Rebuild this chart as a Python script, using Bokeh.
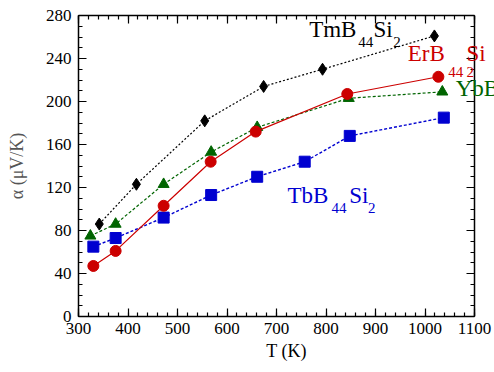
from bokeh.plotting import figure
from bokeh.models import Label, LinearAxis, Range1d, FixedTicker
from bokeh.embed import file_html
from bokeh.resources import INLINE

# Data (temperature in K, Seebeck coefficient in uV/K)
tm_T = [342, 417, 555, 674, 793, 1019]
tm_a = [86, 123, 182, 214, 230, 261]

er_T = [330, 375, 472, 567, 658, 843, 1027]
er_a = [47, 61, 103, 144, 172, 207, 223]

yb_T = [324, 375, 472, 568, 661, 846, 1035]
yb_a = [75, 86, 123, 153, 176, 203, 209]

tb_T = [330, 375, 472, 568, 661, 757, 848, 1038]
tb_a = [65, 73, 92, 113, 130, 144, 168, 185]

x_ticks = [300, 400, 500, 600, 700, 800, 900, 1000, 1100]
y_ticks = [0, 40, 80, 120, 160, 200, 240, 280]
x_min, x_max = 300, 1100
y_min, y_max = 0, 280

FONT = "Liberation Serif"
RED = "#cc0000"
GREEN = "#006400"
BLUE = "#0000d0"

# frame runs to the right canvas edge so that labels are clipped only there
p = figure(width=494, height=372, output_backend="svg", toolbar_location=None,
           x_range=Range1d(x_min, 1140.4), y_range=Range1d(y_min, y_max),
           min_border_left=78, min_border_right=0, min_border_top=15,
           min_border_bottom=56)
p.xgrid.visible = False
p.ygrid.visible = False
p.outline_line_color = None
p.background_fill_color = "white"
p.border_fill_color = "white"

def style_axis(ax, labels=True):
    ax.axis_line_color = "black"
    ax.axis_line_width = 1.5
    ax.major_tick_in = 8
    ax.major_tick_out = 0
    ax.minor_tick_in = 4
    ax.minor_tick_out = 0
    ax.major_tick_line_color = "black"
    ax.minor_tick_line_color = "black"
    ax.major_tick_line_width = 1.2
    ax.minor_tick_line_width = 1.2
    ax.major_label_text_font = FONT
    ax.major_label_text_font_size = "17px"
    ax.major_label_text_color = "black"
    ax.axis_label_text_font = FONT
    ax.axis_label_text_font_size = "18px"
    ax.axis_label_text_font_style = "normal"
    ax.axis_label_text_color = "black"
    if not labels:
        ax.major_label_text_font_size = "0px"
        ax.major_label_text_alpha = 0
        ax.major_label_standoff = 0

def xticker():
    return FixedTicker(ticks=x_ticks, minor_ticks=list(range(x_min, x_max + 1, 20)))

def yticker():
    return FixedTicker(ticks=y_ticks, minor_ticks=list(range(y_min, y_max + 1, 10)))

p.xaxis.ticker = xticker()
p.yaxis.ticker = yticker()
style_axis(p.xaxis[0])
style_axis(p.yaxis[0])
p.xaxis.bounds = (x_min, x_max)
p.xaxis.axis_label = "T (K)"
p.yaxis.axis_label = "α (μV/K)"
p.yaxis.axis_label_text_color = "#555555"
p.yaxis.axis_label_text_font_size = "18px"
p.yaxis.axis_label_standoff = 16
p.xaxis.axis_label_standoff = 4
p.xaxis.major_label_standoff = 6
p.yaxis.major_label_standoff = 7

top = LinearAxis(ticker=xticker(), bounds=(x_min, x_max))
style_axis(top, labels=False)
p.add_layout(top, "above")
right = LinearAxis(ticker=yticker(), fixed_location=x_max)
style_axis(right, labels=False)
p.add_layout(right, "right")

# Series
p.line(tm_T, tm_a, line_color="black", line_width=1.2, line_dash="2 2")
p.scatter(tm_T, tm_a, marker="diamond", size=12, fill_color="black", line_color="black")

p.line(yb_T, yb_a, line_color=GREEN, line_width=1.2, line_dash="3 2")
p.scatter(yb_T, yb_a, marker="triangle", size=11, fill_color=GREEN, line_color=GREEN)

p.line(tb_T, tb_a, line_color=BLUE, line_width=1.4, line_dash="3 2")
p.scatter(tb_T, tb_a, marker="square", size=11, fill_color=BLUE, line_color=BLUE)

p.line(er_T, er_a, line_color=RED, line_width=1.2)
p.scatter(er_T, er_a, marker="circle", size=11, fill_color=RED, line_color=RED)

# Compound labels (main text + subscripts)
labels = [
    # text, x, y, color, size
    ("TmB", 766, 267, "black", "23px"),
    ("44", 865, 255, "black", "15px"),
    ("Si", 896, 267, "black", "23px"),
    ("2", 936, 255, "black", "15px"),
    ("ErB", 965, 245, RED, "23px"),
    ("44", 1047, 227, RED, "15px"),
    ("Si", 1084, 245, RED, "23px"),
    ("2", 1084, 227, RED, "15px"),
    ("YbB", 1062, 212, GREEN, "23px"),
    ("TbB", 722, 113, BLUE, "23px"),
    ("44", 811, 101, BLUE, "15px"),
    ("Si", 847, 113, BLUE, "23px"),
    ("2", 885, 101, BLUE, "15px"),
]
for t, x, y, c, s in labels:
    p.add_layout(Label(x=x, y=y, text=t, text_color=c, text_font=FONT,
                       text_font_size=s, text_baseline="alphabetic"))

open("out.html", "w").write(file_html(p, INLINE))
